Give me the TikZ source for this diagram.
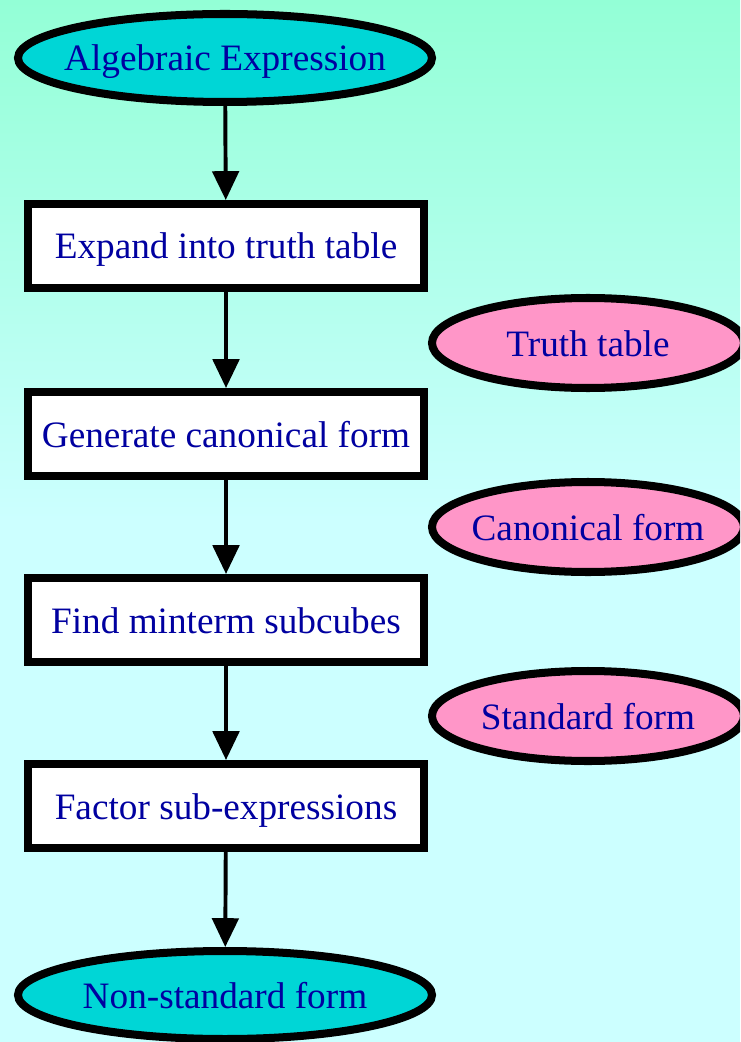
\documentclass[tikz,border=0pt]{standalone}
\usepackage{fontspec}
\setmainfont{Liberation Serif}
\usetikzlibrary{arrows.meta,shapes.geometric}
\definecolor{bgmint}{RGB}{147,255,214}
\definecolor{bgcyan}{RGB}{204,255,255}
\definecolor{endfill}{RGB}{0,214,214}
\definecolor{dataink}{RGB}{255,150,200}
\definecolor{txtblue}{RGB}{0,0,160}

\begin{document}
\begin{tikzpicture}[
  terminal/.style={ellipse,draw=black,fill=endfill,line width=5.7pt,outer sep=auto,
    inner xsep=-1cm,inner ysep=0pt,minimum width=10.35cm,minimum height=2.2cm,
    text height=0.8cm,text depth=0.15cm,text=txtblue,font=\rmfamily\fontsize{26.5}{30}\selectfont},
  stepbox/.style={rectangle,draw=black,fill=white,line width=5.7pt,outer sep=auto,
    inner sep=0pt,minimum width=9.9cm,minimum height=2.1cm,
    text height=0.8cm,text depth=0.15cm,text=txtblue,font=\rmfamily\fontsize{26.5}{30}\selectfont},
  product/.style={ellipse,draw=black,fill=dataink,line width=5.7pt,outer sep=auto,
    inner xsep=-1cm,inner ysep=0pt,minimum width=7.8cm,minimum height=2.25cm,
    text height=0.8cm,text depth=0.15cm,text=txtblue,font=\rmfamily\fontsize{26.5}{30}\selectfont},
  flow/.style={-{Triangle[length=0.72cm,width=0.66cm]},line width=2.8pt,black}]
  \useasboundingbox (0,0) rectangle (18.5,-26.05);
  \clip (0,0) rectangle (18.5,-26.05);
  \shade[top color=bgmint,bottom color=bgcyan] (0,0) rectangle (18.5,-13);
  \fill[bgcyan] (0,-13) rectangle (18.5,-26.05);
  \node[terminal] (expr)  at (5.625,-1.45)   {Algebraic Expression};
  \node[stepbox]  (truth) at (5.65,-6.15)    {Expand into truth table};
  \node[stepbox]  (canon) at (5.65,-10.85)   {Generate canonical form};
  \node[stepbox]  (mint)  at (5.65,-15.5)    {Find minterm subcubes};
  \node[stepbox]  (fact)  at (5.65,-20.15)   {Factor sub-expressions};
  \node[terminal] (nonst) at (5.625,-24.875) {Non-standard form};
  \node[product]  (tt)    at (14.7,-8.575)   {Truth table};
  \node[product]  (cf)    at (14.7,-13.175)  {Canonical form};
  \node[product]  (sf)    at (14.7,-17.9)    {Standard form};
  \draw[flow] (expr) -- (truth);
  \draw[flow] (truth) -- (canon);
  \draw[flow] (canon) -- (mint);
  \draw[flow] (mint) -- (fact);
  \draw[flow] (fact) -- (nonst);
\end{tikzpicture}
\end{document}
